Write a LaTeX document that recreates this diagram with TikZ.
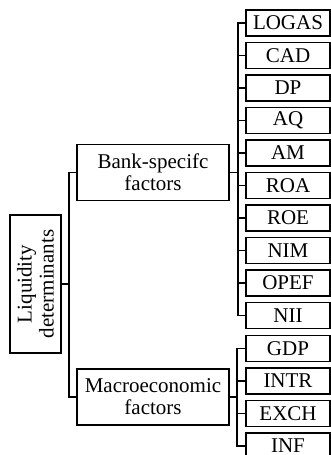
\documentclass[tikz,border=0pt]{standalone}
\usepackage{fontspec}
\setmainfont{Liberation Serif}
\begin{document}
\begin{tikzpicture}[x=1pt,y=-1pt,
  box/.style={draw=black,line width=1.5pt,inner sep=0pt,align=center,font=\fontsize{21}{22}\selectfont},
  leaf/.style={box,minimum width=84pt,minimum height=26pt},
  mid/.style={box,minimum width=152pt,minimum height=56pt},
  conn/.style={line width=1.6pt}]
\useasboundingbox (0,0) rectangle (331,455);
\clip (0,0) rectangle (331,455);
\node[box,rotate=90,minimum width=138pt,minimum height=51pt] (root) at (35.5,284) {Liquidity\\determinants};
\node[mid] (bank) at (153,172.5) {Bank-specifc\\factors};
\node[mid] (macro) at (153,397) {Macroeconomic\\factors};
% bank leaves
\foreach \n/\t/\y in {logas/LOGAS/23, cad/CAD/55.5, dp/DP/88, aq/AQ/120.5, am/AM/153, roa/ROA/185.5, roe/ROE/218, nim/NIM/250.5, opef/OPEF/283, nii/NII/315.5}
  \node[leaf] (\n) at (288,\y) {\t};
% macro leaves
\foreach \n/\t/\y in {gdp/GDP/348.5, intr/INTR/381, exch/EXCH/413.5, inf/INF/446}
  \node[leaf] (\n) at (288,\y) {\t};
% root connectors
\coordinate (j1) at (69,284);
\draw[conn] (root.south) -- (j1);
\draw[conn] (bank.west) -| (j1) |- (macro.west);
% bank connectors
\coordinate (j2) at (238,172.5);
\draw[conn] (bank.east) -- (j2);
\draw[conn] (logas.west) -| (j2) |- (nii.west);
\foreach \n in {cad,dp,aq,am,roa,roe,nim,opef}
  \draw[conn] (\n.west) -- (\n.west -| j2);
% macro connectors
\coordinate (j3) at (237,397);
\draw[conn] (macro.east) -- (j3);
\draw[conn] (gdp.west) -| (j3) |- (inf.west);
\foreach \n in {intr,exch}
  \draw[conn] (\n.west) -- (\n.west -| j3);
\end{tikzpicture}
\end{document}
